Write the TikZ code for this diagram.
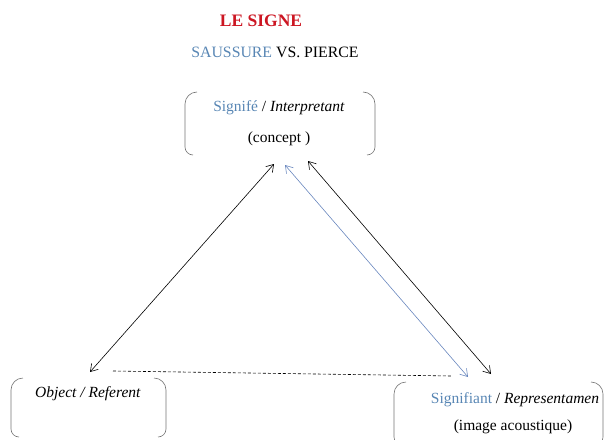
\documentclass[tikz,border=0pt]{standalone}
\usepackage{fontspec}
\setmainfont{Liberation Serif}
\usetikzlibrary{arrows.meta}
\definecolor{signred}{RGB}{204,22,34}
\definecolor{signblue}{RGB}{88,134,180}
\definecolor{arrowblue}{RGB}{105,135,190}
% bracket pair round a box: left x, right x, top y, bottom y
\newcommand{\bracketpair}[4]{
  \draw[bracket] (#1+12,#3) to[out=180,in=90] (#1,#3+12) -- (#1,#4-8) to[out=-90,in=180] (#1+8,#4);
  \draw[bracket] (#2-12,#3) to[out=0,in=90] (#2,#3+12) -- (#2,#4-8) to[out=-90,in=0] (#2-8,#4);}

\begin{document}
\begin{tikzpicture}[x=1pt,y=-1pt,
    bracket/.style={draw=black!55,line width=0.6pt},
    link/.style={<->,>={Straight Barb[length=7pt,width=9pt]},line width=0.6pt},
    word/.style={inner sep=0pt,font=\fontsize{15.5}{17}\selectfont}]
  \useasboundingbox (0,0) rectangle (607,439);
  % titles
  \node[inner sep=0pt,font=\fontsize{17.5}{19}\selectfont\bfseries,text=signred] (title) at (261,21) {LE SIGNE};
  \node[inner sep=0pt,font=\fontsize{15.8}{17}\selectfont] (sub) at (275,52) {\textcolor{signblue}{SAUSSURE} VS. PIERCE};
  % boxes
  \bracketpair{185}{375}{92}{155}
  \bracketpair{11}{166}{378}{437}
  \bracketpair{394}{603}{382}{445}
  \node[word] (sig) at (279,108) {\textcolor{signblue}{Signifé} / \textit{Interpretant}};
  \node[word] (con) at (279,139) {(concept )};
  \node[word] (obj) at (88,394) {\textit{Object / Referent}};
  \node[word] (sgt) at (515,400) {\textcolor{signblue}{Signifiant} / \textit{Representamen}};
  \node[word] (ima) at (513,427) {(image acoustique)};
  % arrow ends
  \coordinate (a1) at (274,164);
  \coordinate (b1) at (90,372);
  \coordinate (a2) at (285,165);
  \coordinate (b2) at (468,377);
  \coordinate (a3) at (308,161);
  \coordinate (b3) at (491,374);
  \coordinate (d1) at (113,371);
  \coordinate (d2) at (452,376);
  \draw[link] (a1) -- (b1);
  \draw[link,arrowblue] (a2) -- (b2);
  \draw[link] (a3) -- (b3);
  \draw[dashed,line width=0.6pt,dash pattern=on 3pt off 2pt] (d1) -- (d2);
\end{tikzpicture}
\end{document}
